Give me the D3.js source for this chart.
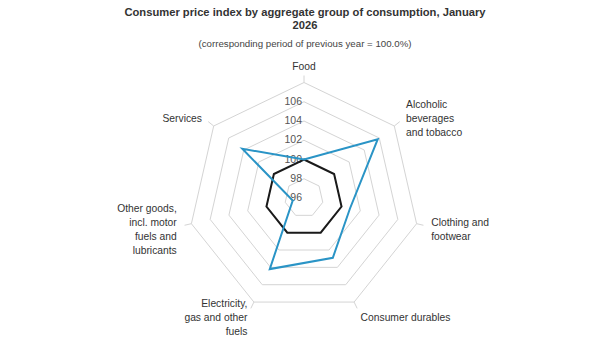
<!DOCTYPE html>
<html>
<head>
<meta charset="utf-8">
<script src="https://cdn.jsdelivr.net/npm/d3@7"></script>
<style>
  body { margin: 0; background: #fff; }
  text { font-family: "Liberation Sans", Arial, sans-serif; }
</style>
</head>
<body>
<div id="plot"></div>
<script>
const categories = [
  ["Food"],
  ["Alcoholic", "beverages", "and tobacco"],
  ["Clothing and", "footwear"],
  ["Consumer durables"],
  ["Electricity,", "gas and other", "fuels"],
  ["Other goods,", "incl. motor", "fuels and", "lubricants"],
  ["Services"]
];
const cpiValues = [100.0, 105.8, 100.9, 102.9, 104.2, 97.2, 104.2];
const baseValues = [100, 100, 100, 100, 100, 100, 100];
const ringTicks = [98, 100, 102, 104, 106, 108];
const labelTicks = [96, 98, 100, 102, 104, 106];

const w = 610, h = 343;
const cx = 304, cy = 198, R = 115.5;

const rScale = d3.scaleLinear().domain([96, 108]).range([0, R]);
const aScale = d3.scaleLinear().domain([0, categories.length]).range([0, 2 * Math.PI]);

const svg = d3.select("div#plot")
  .append("svg")
  .attr("width", w)
  .attr("height", h);

// titles
svg.append("text")
  .attr("x", w / 2).attr("y", 16)
  .attr("text-anchor", "middle")
  .style("font-size", "11.2px").style("font-weight", "bold").style("fill", "#333")
  .text("Consumer price index by aggregate group of consumption, January");
svg.append("text")
  .attr("x", w / 2).attr("y", 29)
  .attr("text-anchor", "middle")
  .style("font-size", "11.2px").style("font-weight", "bold").style("fill", "#333")
  .text("2026");
svg.append("text")
  .attr("x", w / 2).attr("y", 47)
  .attr("text-anchor", "middle")
  .style("font-size", "9.7px").style("fill", "#444")
  .text("(corresponding period of previous year = 100.0%)");

const plot = svg.append("g")
  .attr("id", "plotarea")
  .attr("transform", `translate(${cx}, ${cy})`);

const pt = (i, r) => [r * Math.sin(aScale(i)), -r * Math.cos(aScale(i))];

// grid rings
plot.append("g")
  .selectAll("polygon")
  .data(ringTicks)
  .enter()
  .append("polygon")
  .attr("points", t => d3.range(categories.length).map(i => pt(i, rScale(t)).join(",")).join(" "))
  .attr("fill", "none")
  .attr("stroke", "#d4d4d4")
  .attr("stroke-width", 1);

// tick marks outside
plot.append("g")
  .selectAll("line")
  .data(categories)
  .enter()
  .append("line")
  .attr("x1", (d, i) => pt(i, R)[0])
  .attr("y1", (d, i) => pt(i, R)[1])
  .attr("x2", (d, i) => pt(i, R + 7)[0])
  .attr("y2", (d, i) => pt(i, R + 7)[1])
  .attr("stroke", "#d4d4d4");

// radial tick labels
plot.append("g")
  .selectAll("text")
  .data(labelTicks)
  .enter()
  .append("text")
  .attr("x", -2)
  .attr("y", t => -rScale(t))
  .attr("dy", "0.3em")
  .attr("text-anchor", "end")
  .style("font-size", "10.5px")
  .style("fill", "#555")
  .text(t => t);

// series
const line = d3.lineRadial()
  .angle((d, i) => aScale(i))
  .radius(d => rScale(d))
  .curve(d3.curveLinearClosed);

plot.append("path")
  .datum(baseValues)
  .attr("d", line)
  .attr("fill", "none")
  .attr("stroke", "#1a1a1a")
  .attr("stroke-width", 2);

plot.append("path")
  .datum(cpiValues)
  .attr("d", line)
  .attr("fill", "none")
  .attr("stroke", "#2a94c6")
  .attr("stroke-width", 2);

// category labels
const lab = plot.append("g")
  .selectAll("text")
  .data(categories)
  .enter()
  .append("text")
  .style("font-size", "10.3px")
  .style("fill", "#333")
  .attr("text-anchor", (d, i) => {
    const s = Math.sin(aScale(i));
    return Math.abs(s) < 0.1 ? "middle" : (s > 0 ? "start" : "end");
  });

lab.each(function(d, i) {
  const [x, y] = pt(i, R + 15);
  const n = d.length;
  const yc = i === 0 ? y - 1 : y + 2;
  d3.select(this).selectAll("tspan")
    .data(d)
    .enter()
    .append("tspan")
    .attr("x", x)
    .attr("y", (s, j) => yc + (j - (n - 1) / 2) * 14)
    .attr("dy", "0.35em")
    .text(s => s);
});
</script>
</body>
</html>
